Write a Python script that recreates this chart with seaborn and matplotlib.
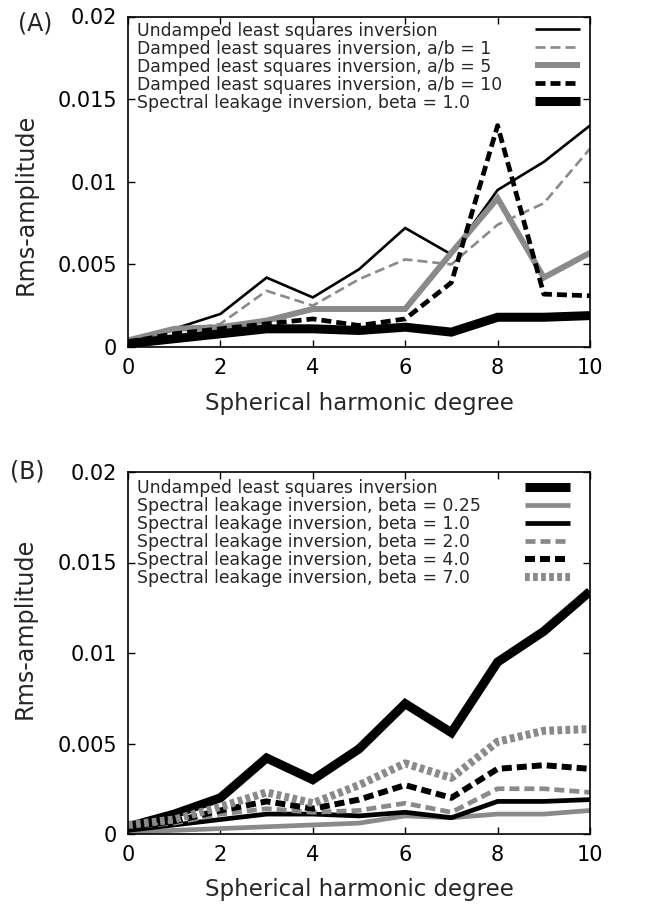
import numpy as np
import pandas as pd
import matplotlib
matplotlib.use("Agg")
import matplotlib.pyplot as plt
import seaborn as sns

# Dados (grau harmonico esferico 0..10)
graus = list(range(11))

# Painel (A)
undamped = [0.0004, 0.0011, 0.0020, 0.0042, 0.0030, 0.0047, 0.0072, 0.0056, 0.0095, 0.0112, 0.0134]
damped_ab1 = [0.0004, 0.0009, 0.0014, 0.0034, 0.0025, 0.0041, 0.0053, 0.0050, 0.0074, 0.0087, 0.0120]
damped_ab5 = [0.0004, 0.0011, 0.0012, 0.0016, 0.0023, 0.0023, 0.0023, 0.0057, 0.0090, 0.0042, 0.0057]
damped_ab10 = [0.0003, 0.0008, 0.0011, 0.0014, 0.0017, 0.0013, 0.0017, 0.0039, 0.0134, 0.0032, 0.0031]
leak_b1 = [0.0002, 0.0005, 0.0008, 0.0011, 0.0011, 0.0010, 0.0012, 0.0009, 0.0018, 0.0018, 0.0019]

# Painel (B)
leak_b025 = [0.0001, 0.0002, 0.0003, 0.0004, 0.0005, 0.0006, 0.0010, 0.0009, 0.0011, 0.0011, 0.0013]
leak_b2 = [0.0004, 0.0006, 0.0011, 0.0014, 0.0012, 0.0013, 0.0017, 0.0012, 0.0025, 0.0025, 0.0023]
leak_b4 = [0.0004, 0.0007, 0.0013, 0.0018, 0.0014, 0.0019, 0.0027, 0.0020, 0.0036, 0.0038, 0.0036]
leak_b7 = [0.0005, 0.0008, 0.0015, 0.0023, 0.0017, 0.0027, 0.0039, 0.0031, 0.0051, 0.0057, 0.0058]

labels_a = ["Undamped least squares inversion",
            "Damped least squares inversion, a/b = 1",
            "Damped least squares inversion, a/b = 5",
            "Damped least squares inversion, a/b = 10",
            "Spectral leakage inversion, beta = 1.0"]
labels_b = ["Undamped least squares inversion",
            "Spectral leakage inversion, beta = 0.25",
            "Spectral leakage inversion, beta = 1.0",
            "Spectral leakage inversion, beta = 2.0",
            "Spectral leakage inversion, beta = 4.0",
            "Spectral leakage inversion, beta = 7.0"]

yticks = [0, 0.005, 0.01, 0.015, 0.02]
ytick_labels = ["0", "0.005", "0.01", "0.015", "0.02"]
xticks = [0, 2, 4, 6, 8, 10]

# Estilos (cor, espessura, tracejado)
GRAY = "#8a8a8a"
SOLID = "-"
DASH = (0, (7.2, 3.6))
DOT = (0, (3.4, 2.4))
estilos_a = [("black", 1.9, SOLID), (GRAY, 1.9, DASH), (GRAY, 4.3, SOLID),
             ("black", 3.4, DASH), ("black", 6.5, SOLID)]
estilos_b = [("black", 6.5, SOLID), (GRAY, 3.4, SOLID), ("black", 3.4, SOLID),
             (GRAY, 3.4, DASH), ("black", 4.3, DASH), (GRAY, 5.8, DOT)]

sns.set_style("ticks")
plt.rcParams["font.family"] = ["DejaVu Sans"]
plt.rcParams["lines.scale_dashes"] = False

fig = plt.figure(figsize=(6.57, 9.09), dpi=100)
ax_a = fig.add_axes([128 / 657, 1 - 347 / 909, 462 / 657, 330.5 / 909])
ax_b = fig.add_axes([128 / 657, 1 - 834 / 909, 462 / 657, 362 / 909])


def desenha(ax, series, labels, estilos):
    for vals, lab, (cor, lw, ls) in zip(series, labels, estilos):
        sns.lineplot(x=graus, y=vals, ax=ax, color=cor, lw=lw, linestyle=ls,
                     label=lab, dash_capstyle="butt", solid_capstyle="butt",
                     solid_joinstyle="miter", legend=False)
    ax.set_xlim(0, 10)
    ax.set_ylim(0, 0.02)
    ax.set_xticks(xticks)
    ax.set_yticks(yticks)
    ax.set_yticklabels(ytick_labels)
    ax.tick_params(direction="in", length=5, width=1, top=True, right=True,
                   labelsize=15, pad=8, colors="black")
    for s in ax.spines.values():
        s.set_linewidth(1.2)
        s.set_color("black")
    ax.set_xlabel("Spherical harmonic degree", fontsize=16.5)
    ax.set_ylabel("Rms-amplitude", fontsize=17.2)


def legenda(ax, largura_px, ancora):
    # legenda estilo gnuplot: texto a esquerda, linha alinhada a direita
    leg = ax.legend(markerfirst=False, frameon=False, loc="upper left",
                    bbox_to_anchor=ancora, borderpad=0, borderaxespad=0,
                    fontsize=12.4, labelspacing=0.0, handlelength=2.6,
                    handleheight=0.7)
    fig.canvas.draw()
    r = fig.canvas.get_renderer()
    col = leg._legend_handle_box.get_children()[0]
    hl = leg.handlelength * leg._fontsize
    for row, t in zip(col.get_children(), leg.get_texts()):
        w = t.get_window_extent(r).width * 72 / fig.dpi
        row.sep = largura_px * 72 / fig.dpi - w - hl
    return leg


desenha(ax_a, [undamped, damped_ab1, damped_ab5, damped_ab10, leak_b1], labels_a, estilos_a)
desenha(ax_b, [undamped, leak_b025, leak_b1, leak_b2, leak_b4, leak_b7], labels_b, estilos_b)

ax_a.yaxis.set_label_coords(-0.195, 0.433)
ax_b.yaxis.set_label_coords(-0.197, 0.569)
ax_a.xaxis.set_label_coords(0.5, -0.136)
ax_b.xaxis.set_label_coords(0.5, -0.122)

legenda(ax_a, 443, (9 / 462, 1 - 5 / 330.5))
legenda(ax_b, 433, (9 / 462, 1 - 7 / 362))

fig.text(35 / 657, 1 - 23 / 909, "(A)", ha="center", va="center", fontsize=17)
fig.text(27 / 657, 1 - 472 / 909, "(B)", ha="center", va="center", fontsize=17)

fig.savefig("out.png", dpi=100)
